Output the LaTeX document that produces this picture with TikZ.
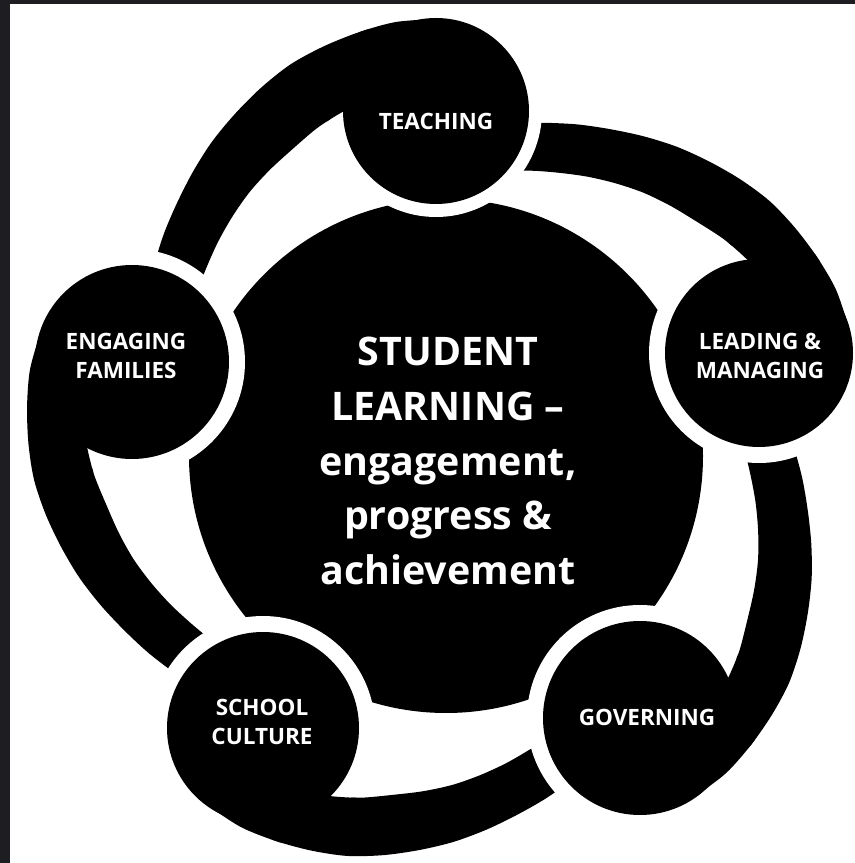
\documentclass[tikz,border=0pt]{standalone}
\usepackage{fontspec}
\setmainfont{Open Sans}
\definecolor{framegrey}{RGB}{30,29,34}
\newcommand\tailfill[3]{% #1 source centre, #2 source angle, #3 radial offset
  \fill[black,shift={(C)}] (#1) -- plot[smooth] coordinates {
    ({#2}:{423+#3}) ({#2+5}:{424+0.92*#3}) ({#2+10}:{421+0.83*#3})
    ({#2+15}:{417+0.75*#3}) ({#2+20}:{412+0.67*#3}) ({#2+25}:{404+0.58*#3})
    ({#2+30}:{395+0.5*#3}) ({#2+35}:{386+0.42*#3}) ({#2+40}:{376+0.33*#3})
    ({#2+45}:{366+0.25*#3}) ({#2+50}:{357+0.17*#3}) ({#2+55}:{348+0.08*#3})
    ({#2+60}:{340}) ({#2+66}:{332})}
  -- plot[smooth] coordinates {
    ({#2+66}:{283}) ({#2+60}:{291}) ({#2+55}:{298}) ({#2+50}:{305})
    ({#2+45}:{313}) ({#2+40}:{321}) ({#2+35}:{329}) ({#2+30}:{336})
    ({#2+25}:{343}) ({#2+20}:{352}) ({#2+16}:{358}) ({#2+12}:{364})}
  -- cycle;}
\begin{document}
\begin{tikzpicture}[x=0.025cm,y=0.025cm,
  lbl/.style={text=white,font=\bfseries\fontsize{16}{21}\selectfont,align=center,inner sep=0pt},
  bigl/.style={text=white,font=\bfseries\fontsize{28}{39}\selectfont,align=center,inner sep=0pt},
  gapdisk/.style={fill=white},
  disk/.style={fill=black}]
\fill[framegrey] (0,0) rectangle (855,863);
\fill[white] (10,0) rectangle (855,859);
\useasboundingbox (0,0) rectangle (855,863);
% centres
\coordinate (C) at (446,407);
\coordinate (cT) at (436,752);
\coordinate (cL) at (759,510);
\coordinate (cG) at (640,145);
\coordinate (cS) at (263,135);
\coordinate (cE) at (132,501);
% central disk
\fill[black] (C) circle (257);
% tails
\tailfill{cT}{91.66}{14}
\tailfill{cL}{18.2}{0}
\tailfill{cG}{-53.5}{-1}
\tailfill{cS}{236.1}{0}
\tailfill{cE}{163.3}{1}
% white gaps
\fill[gapdisk] (cT) circle (106);
\fill[gapdisk] (cL) circle (110);
\fill[gapdisk] (cG) circle (113);
\fill[gapdisk] (cS) circle (112);
\fill[gapdisk] (cE) circle (113);
% restore tails where they leave their own circle
\begin{scope}\clip (cT) circle (110); \tailfill{cT}{91.66}{14}\end{scope}
\begin{scope}\clip (cL) circle (114); \tailfill{cL}{18.2}{0}\end{scope}
\begin{scope}\clip (cG) circle (117); \tailfill{cG}{-53.5}{-1}\end{scope}
\begin{scope}\clip (cS) circle (116); \tailfill{cS}{236.1}{0}\end{scope}
\begin{scope}\clip (cE) circle (117); \tailfill{cE}{163.3}{1}\end{scope}
% circles
\fill[disk] (cT) circle (93);
\fill[disk] (cL) circle (94);
\fill[disk] (cG) circle (97);
\fill[disk] (cS) circle (96);
\fill[disk] (cE) circle (97);
% labels
\node[lbl] (teach) at (436,742) {TEACHING};
\node[lbl] (lead) at (760,507) {LEADING \&\\MANAGING};
\node[lbl] (gov) at (647,146) {GOVERNING};
\node[lbl] (cult) at (262,141) {SCHOOL\\CULTURE};
\node[lbl] (fam) at (126,507) {ENGAGING\\FAMILIES};
\node[bigl] (core) at (448,402) {STUDENT\\LEARNING –\\engagement,\\progress \&\\achievement};
\end{tikzpicture}
\end{document}
